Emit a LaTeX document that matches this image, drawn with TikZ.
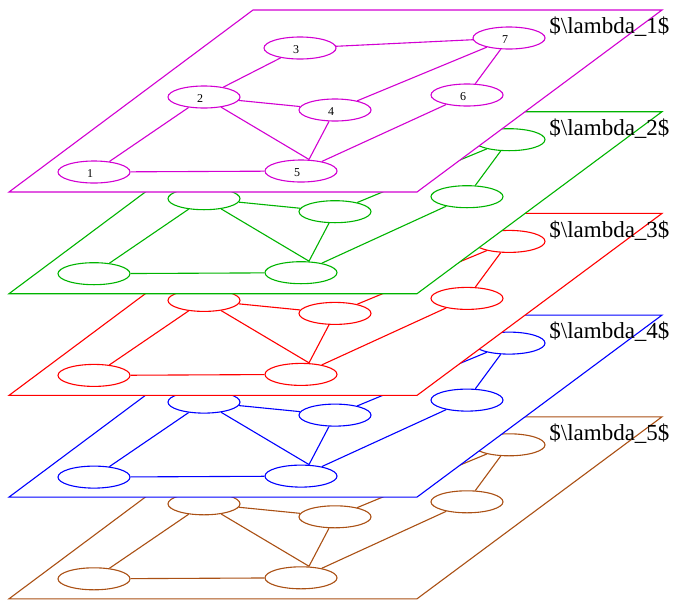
\documentclass[tikz,border=0pt]{standalone}
\usepackage{fontspec}
\setmainfont{Liberation Serif}
\usetikzlibrary{shapes.geometric}

\definecolor{lmagenta}{RGB}{210,0,210}
\definecolor{lgreen}{RGB}{0,180,0}
\definecolor{lred}{RGB}{255,0,0}
\definecolor{lblue}{RGB}{0,0,255}
\definecolor{lbrown}{RGB}{170,80,20}

\tikzset{
  plane/.style={draw, fill=white},
  vtx/.style={ellipse, draw, fill=white, minimum width=72pt, minimum height=22pt, inner sep=0pt},
  vlabel/.style={black, xshift=-4pt, yshift=-2pt, font=\fontsize{12}{14}\selectfont},
  lamlabel/.style={black, anchor=east, inner sep=0pt, font=\fontsize{23}{26}\selectfont},
}

\begin{document}
\begin{tikzpicture}[x=1pt,y=-1pt,line width=1.1pt]
\useasboundingbox (0,0) rectangle (680,600);

% bottom layer first, so the upper ones cover it
\foreach \k/\col/\n in {4/lbrown/5,3/lblue/4,2/lred/3,1/lgreen/2,0/lmagenta/1}{
  \begin{scope}[shift={(0,101.7*\k)},\col]
    \draw[plane] (253,10) -- (662,10) -- (417,192) -- (9,192) -- cycle;
    \foreach \i/\x/\y in {1/94/172,2/204/97,3/300/48,4/335/110,5/301/171,6/467/95,7/509/38}
      \node[vtx,label={[vlabel]center:\ifnum\k=0 \i\fi}] (n\k-\i) at (\x,\y) {};
    \coordinate (top\k) at ([xshift=8pt]n\k-5.north);
    \foreach \a/\b in {1/2,1/5,2/3,2/4,3/7,4/7,5/6,6/7}
      \draw (n\k-\a) -- (n\k-\b);
    % 2 and 4 both come into 5 at one point
    \draw (n\k-2) -- (top\k) -- (n\k-4);
    \node[lamlabel] (lam\n) at (670,27) {\$\textbackslash lambda\_\n\$};
  \end{scope}
}
\end{tikzpicture}
\end{document}
